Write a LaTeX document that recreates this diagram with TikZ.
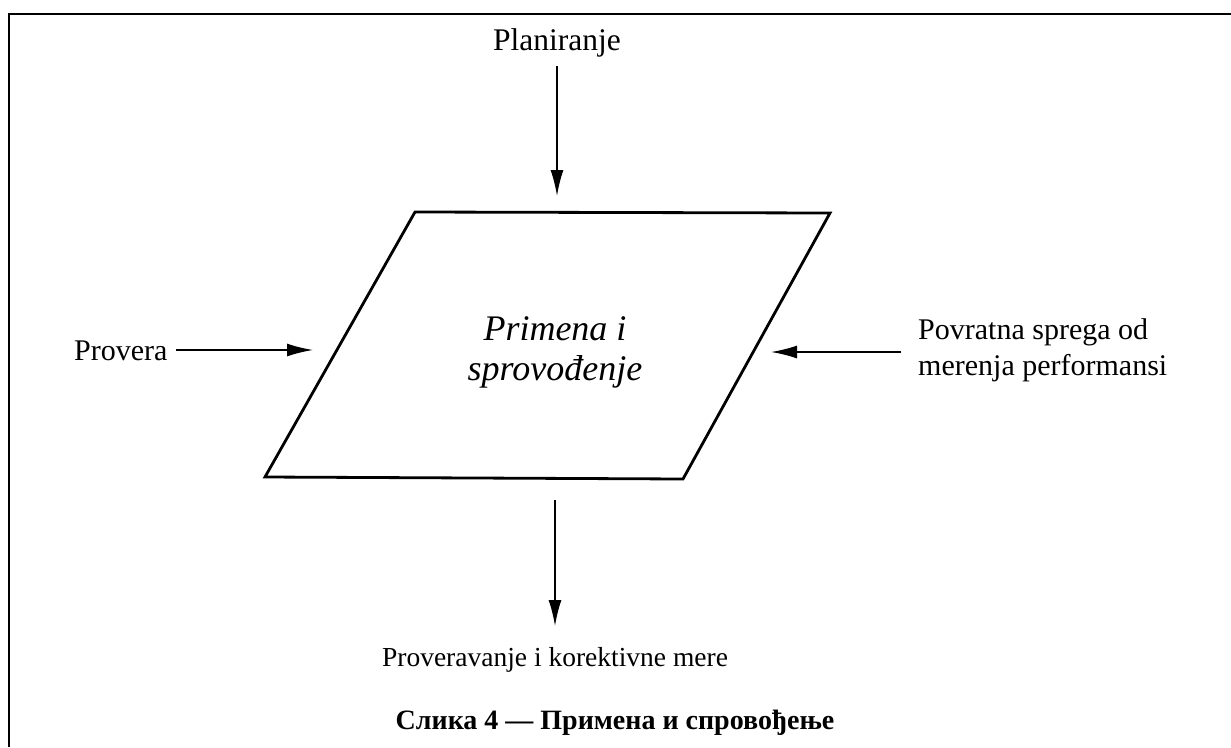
\documentclass[tikz,border=0pt]{standalone}
\usepackage{fontspec}
\setmainfont{Liberation Serif}
\usetikzlibrary{arrows.meta}
\begin{document}
\begin{tikzpicture}[x=1pt,y=-1pt,
  lbl/.style={inner sep=0pt,font=\fontsize{30}{36}\selectfont},
  arr/.style={line width=1.7pt,-{Latex[length=26pt,width=13pt]}},
  frame/.style={line width=2.2pt}]
\useasboundingbox (0,0) rectangle (1231,747);
\draw[frame] (9,747) -- (9,14) -- (1231,14);
% parallelogram
\coordinate (tl) at (415,212);
\coordinate (tr) at (830,213);
\coordinate (br) at (683,479);
\coordinate (bl) at (265,477);
\draw[line width=2.8pt,line join=miter] (tl) -- (tr) -- (br) -- (bl) -- cycle;
\node[inner sep=0pt,align=center,font=\fontsize{36}{40}\selectfont\itshape] (center) at (555,352) {Primena i\\sprovođenje};
% labels
\node[lbl,anchor=base,font=\fontsize{31.5}{36}\selectfont] (plan) at (557,50) {Planiranje};
\node[lbl,anchor=base west] (prov) at (74,360) {Provera};
\node[lbl,anchor=west,align=left] (pov) at (918,350) {Povratna sprega od\\merenja performansi};
\node[lbl,anchor=base,font=\fontsize{27.5}{32}\selectfont] (kor) at (555,666) {Proveravanje i korektivne mere};
\node[inner sep=0pt,anchor=base,font=\fontsize{28}{32}\selectfont\bfseries] (cap) at (615,729) {Слика 4 — Примена и спровођење};
% arrow endpoints
\coordinate (planS) at (557,66);
\coordinate (planE) at (557,196);
\coordinate (provE) at (313,350);
\coordinate (povS) at (901,352);
\coordinate (povE) at (771,352);
\coordinate (korS) at (555,500);
\coordinate (korE) at (555,626);
\draw[arr] (planS) -- (planE);
\draw[arr] (prov.east |- provE) ++(8,0) -- (provE);
\draw[arr] (povS) -- (povE);
\draw[arr] (korS) -- (korE);
\end{tikzpicture}
\end{document}
